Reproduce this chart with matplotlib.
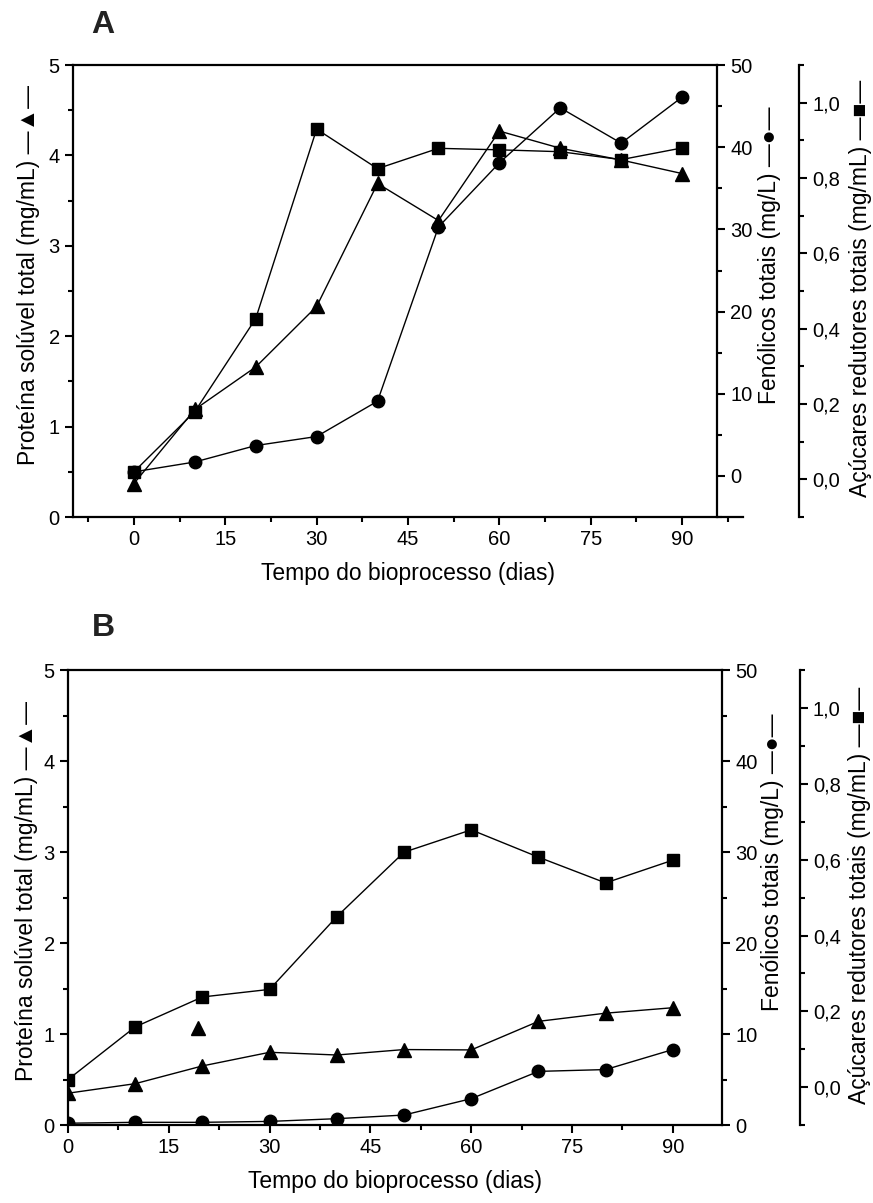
import numpy as np
import matplotlib
matplotlib.use("Agg")
import matplotlib.pyplot as plt
from matplotlib.ticker import MultipleLocator, FixedLocator, FuncFormatter

plt.rcParams['font.family'] = ['Liberation Sans', 'DejaVu Sans']

# tempo do bioprocesso (dias)
dias = [0, 10, 20, 30, 40, 50, 60, 70, 80, 90]

# painel A
prot_a = [0.37, 1.19, 1.66, 2.33, 3.69, 3.28, 4.27, 4.08, 3.95, 3.80]
fen_a = [0.5, 1.7, 3.7, 4.8, 9.1, 30.3, 38.1, 44.8, 40.5, 46.1]
acu_a = [0.02, 0.18, 0.427, 0.93, 0.825, 0.879, 0.875, 0.870, 0.849, 0.880]

# painel B
prot_b = [0.35, 0.455, 0.65, 0.80, 0.77, 0.83, 0.826, 1.14, 1.23, 1.29]
fen_b = [0.2, 0.3, 0.3, 0.4, 0.7, 1.1, 2.9, 5.9, 6.1, 8.3]
acu_b = [0.02, 0.159, 0.238, 0.258, 0.45, 0.62, 0.679, 0.607, 0.539, 0.599]
# ponto isolado de proteína no painel B
extra_b_x = [19.3]
extra_b_y = [1.07]

xlabel = "Tempo do bioprocesso (dias)"
lab_prot = "Proteína solúvel total (mg/mL) —▲—"
lab_fen = "Fenólicos totais (mg/L) —●—"
lab_acu = "Açúcares redutores totais (mg/mL) —■—"

TICK_FS = 14.5
LAB_FS = 16.5
comma = FuncFormatter(lambda v, p: f"{v:.1f}".replace('.', ','))

fig = plt.figure(figsize=(8.73, 12.03), dpi=100)


def style_ticks(a):
    a.tick_params(which='both', direction='out', width=1.5, labelsize=TICK_FS)
    a.tick_params(which='major', length=6)
    a.tick_params(which='minor', length=3.5)


def panel(rect, xlim, fen_lim, fen_pos, acu_pos, prot, fen, acu, lab_pos, top_end=None):
    ax = fig.add_axes(rect)
    ax2 = ax.twinx()
    ax3 = ax.twinx()

    ax.plot(dias, prot, '-^', color='black', lw=1, ms=9.5)
    ax2.plot(dias, fen, '-o', color='black', lw=1, ms=9)
    ax3.plot(dias, acu, '-s', color='black', lw=1, ms=8.5)

    ax.set_xlim(*xlim)
    ax.set_ylim(0, 5)
    ax2.set_ylim(*fen_lim)
    ax3.set_ylim(-0.1, 1.1)

    for s in ax.spines.values():
        s.set_linewidth(1.6)
    ax.spines['right'].set_visible(False)
    if top_end is not None:
        ax.spines['top'].set_bounds(xlim[0], top_end)
    for a, pos in ((ax2, fen_pos), (ax3, acu_pos)):
        for k in ('left', 'top', 'bottom'):
            a.spines[k].set_visible(False)
        a.spines['right'].set_position(('axes', pos))
        a.spines['right'].set_linewidth(1.6)

    ax.xaxis.set_major_locator(MultipleLocator(15))
    ax.xaxis.set_minor_locator(MultipleLocator(7.5))
    ax.yaxis.set_major_locator(MultipleLocator(1))
    ax.yaxis.set_minor_locator(MultipleLocator(0.5))
    ax2.yaxis.set_major_locator(MultipleLocator(10))
    ax2.yaxis.set_minor_locator(MultipleLocator(5))
    ax3.yaxis.set_major_locator(FixedLocator([0.0, 0.2, 0.4, 0.6, 0.8, 1.0]))
    ax3.yaxis.set_minor_locator(FixedLocator([-0.1, 0.1, 0.3, 0.5, 0.7, 0.9, 1.1]))
    ax3.yaxis.set_major_formatter(comma)
    for a in (ax, ax2, ax3):
        style_ticks(a)

    ax.set_xlabel(xlabel, fontsize=LAB_FS, labelpad=9)
    (xl, yl), (xf, yf), (xa, ya) = lab_pos
    ax.text(xl, yl, lab_prot, transform=ax.transAxes, rotation=90,
            ha='center', va='center', fontsize=LAB_FS)
    ax.text(xf, yf, lab_fen, transform=ax.transAxes, rotation=90,
            ha='center', va='center', fontsize=LAB_FS)
    ax.text(xa, ya, lab_acu, transform=ax.transAxes, rotation=90,
            ha='center', va='center', fontsize=LAB_FS)
    return ax, ax2, ax3


# painel A
axA, axA2, axA3 = panel([0.0836, 0.5702, 0.7675, 0.3757], (-10, 100), (-5, 50),
                        0.961, 1.0836, prot_a, fen_a, acu_a,
                        ((-0.066, 0.535), (1.040, 0.58), (1.175, 0.507)),
                        top_end=95.7)

# painel B
axB, axB2, axB3 = panel([0.0779, 0.0648, 0.749, 0.378], (0, 97.3), (0, 50),
                        1.0, 1.119, prot_b, fen_b, acu_b,
                        ((-0.064, 0.514), (1.078, 0.578), (1.211, 0.505)))
axB.plot(extra_b_x, extra_b_y, '^', color='black', ms=9.5)

fig.text(103 / 873, 1 - 25 / 1203, "A", fontsize=23, fontweight='bold',
         ha='center', va='center', color='#222222')
fig.text(103 / 873, 1 - 628 / 1203, "B", fontsize=23, fontweight='bold',
         ha='center', va='center', color='#222222')

fig.savefig("out.png", dpi=100)
